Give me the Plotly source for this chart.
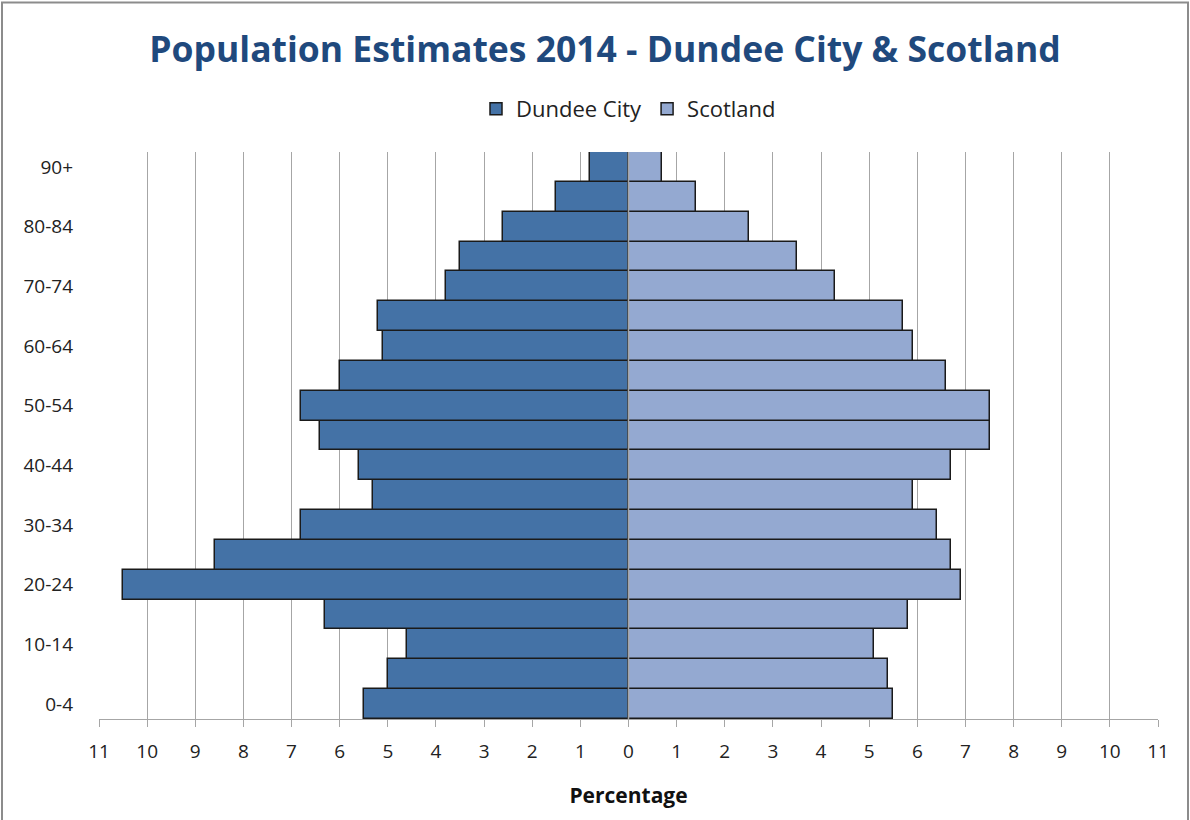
import plotly.graph_objects as go

age_groups = ["0-4", "5-9", "10-14", "15-19", "20-24", "25-29", "30-34", "35-39",
              "40-44", "45-49", "50-54", "55-59", "60-64", "65-69", "70-74",
              "75-79", "80-84", "85-89", "90+"]
dundee = [5.5, 5.0, 4.6, 6.3, 10.5, 8.6, 6.8, 5.3, 5.6, 6.4, 6.8, 6.0, 5.1, 5.2,
          3.8, 3.5, 2.6, 1.5, 0.8]
scotland = [5.5, 5.4, 5.1, 5.8, 6.9, 6.7, 6.4, 5.9, 6.7, 7.5, 7.5, 6.6, 5.9, 5.7,
            4.3, 3.5, 2.5, 1.4, 0.7]
y_tick_labels = age_groups[::2]
x_ticks = list(range(-11, 12))
x_tick_labels = [str(abs(v)) for v in x_ticks]

FONT = "Open Sans"

fig = go.Figure()
fig.add_trace(go.Bar(
    y=age_groups, x=[-v for v in dundee], orientation="h", name="Dundee City",
    marker=dict(color="#4472A6", line=dict(color="#1a1a1a", width=1.5)),
    customdata=dundee, hovertemplate="%{y}: %{customdata}%<extra>Dundee City</extra>",
))
fig.add_trace(go.Bar(
    y=age_groups, x=scotland, orientation="h", name="Scotland",
    marker=dict(color="#94A9D1", line=dict(color="#1a1a1a", width=1.5)),
))

L, R, T, B = 99, 32, 152, 101
W, H = 1190, 820
pw, ph = W - L - R, H - T - B

fig.update_layout(
    width=W, height=H,
    margin=dict(l=L, r=R, t=T, b=B),
    paper_bgcolor="white", plot_bgcolor="white",
    barmode="overlay", bargap=0,
    title=dict(text="<b>Population Estimates 2014 - Dundee City &amp; Scotland</b>",
               x=605 / W, xanchor="center", y=1 - 50 / H, yanchor="middle",
               font=dict(family=FONT, size=35.5, color="#1F497D")),
    legend=dict(orientation="h", x=0.5, xanchor="center", y=1 + (T - 109) / ph,
                yanchor="middle", font=dict(family=FONT, size=22, color="#222"),
                itemwidth=30, traceorder="normal"),
    font=dict(family=FONT, size=19, color="#222"),
    xaxis=dict(range=[-11, 11], tickvals=x_ticks, ticktext=x_tick_labels,
               showgrid=True, gridcolor="#A6A6A6", gridwidth=1.3,
               zeroline=False, showline=True, linecolor="#A6A6A6", linewidth=1.3,
               ticks="outside", ticklen=7, tickcolor="#A6A6A6",
               ticklabelstandoff=8,
               tickfont=dict(size=19, color="#222"),
               title=dict(text="<b>Percentage</b>", font=dict(size=21, color="#111"),
                          standoff=25)),
    yaxis=dict(tickvals=y_tick_labels, ticktext=y_tick_labels,
               categoryorder="array", categoryarray=age_groups,
               showgrid=False, zeroline=False, showline=False, ticks="",
               tickfont=dict(size=19, color="#222"), ticklabelstandoff=25,
               range=[-0.5, len(age_groups) - 0.5]),
    shapes=[
        dict(type="line", xref="x", yref="paper", x0=0, x1=0, y0=0, y1=1,
             line=dict(color="#A6A6A6", width=1.5), layer="above"),
        dict(type="rect", xref="paper", yref="paper",
             x0=(2 - L) / pw, x1=(W - 2 - L) / pw,
             y0=-(B + 5) / ph, y1=1 + (T - 2.5) / ph,
             line=dict(color="#8C8C8C", width=2), fillcolor="rgba(0,0,0,0)", layer="below"),
    ],
)

fig.write_html("out.html", config={"displayModeBar": False},
               post_script="document.body.style.margin='0';")
